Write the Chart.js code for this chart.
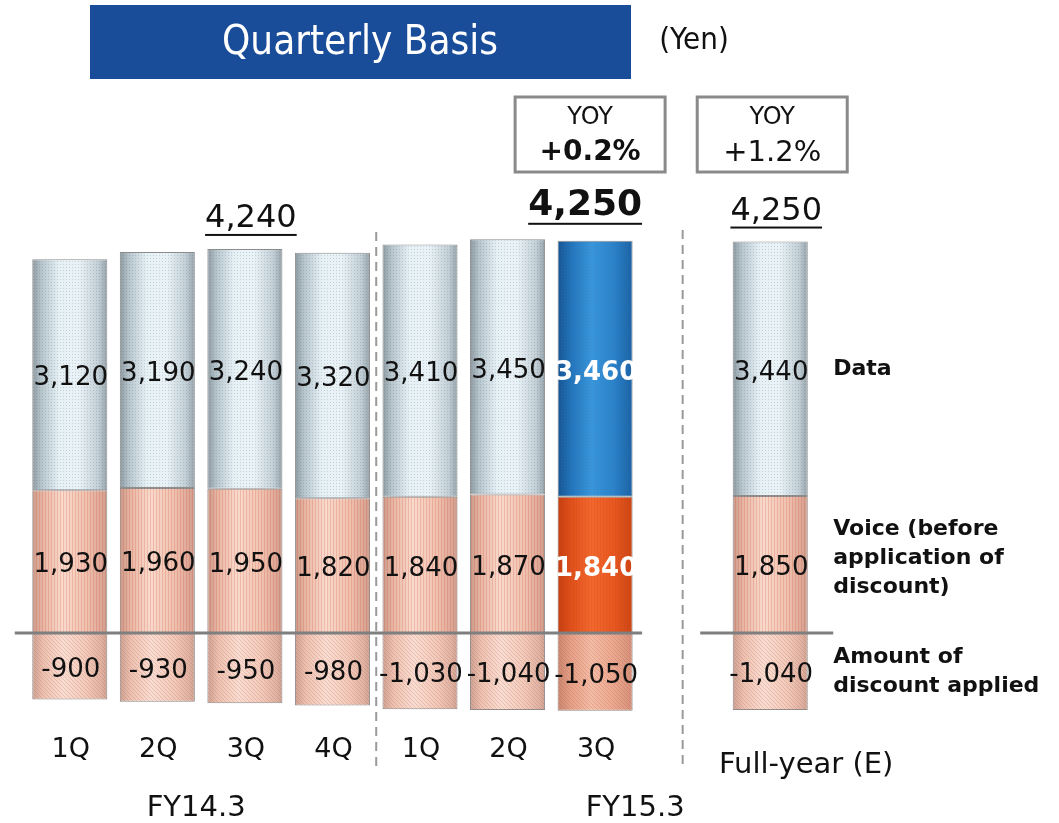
<!DOCTYPE html>
<html>
<head>
<meta charset="utf-8">
<script src="https://cdn.jsdelivr.net/npm/chart.js@4.4.0/dist/chart.umd.min.js"></script>
<style>
html, body { margin: 0; padding: 0; background: #fff; }
#wrap { width: 1059px; height: 823px; }
</style>
</head>
<body>
<div id="wrap"><canvas id="thechart" width="1059" height="823"></canvas></div>
<script>
// values (yen), slot 7 is the gap before the full-year bar
var categories = ['1Q', '2Q', '3Q', '4Q', '1Q', '2Q', '3Q', '', 'Full-year (E)'];
var dataValues = [3120, 3190, 3240, 3320, 3410, 3450, 3460, null, 3440];
var voiceValues = [1930, 1960, 1950, 1820, 1840, 1870, 1840, null, 1850];
var discountValues = [-900, -930, -950, -980, -1030, -1040, -1050, null, -1040];
var totalLabels = [null, null, '4,240', null, null, null, '4,250', null, '4,250'];
var yoyLabels = [null, null, null, null, null, null, '+0.2%', null, '+1.2%'];
var fiscalYears = ['FY14.3', 'FY15.3'];
var seriesLines = [['Data'], ['Voice (before', 'application of', 'discount)'], ['Amount of', 'discount applied']];
var highlightIndex = 6;

var FONT = "'DejaVu Sans', sans-serif";
var NARROW = "'DejaVu Sans Condensed', 'DejaVu Sans', sans-serif";
var BAR_PCT = 0.857;

// gradient stops for the cylinder look
var shades = {
  data: [['#8c99a1', 0], ['#b6c4cc', 0.12], ['#e6f1f6', 0.36], ['#e9f2f7', 0.62], ['#c2cfd6', 0.88], ['#95a2a9', 1]],
  voice: [['#c99a8a', 0], ['#e9b6a4', 0.14], ['#f9dacd', 0.4], ['#f1c2b0', 0.72], ['#dea898', 0.92], ['#c99d8e', 1]],
  disc: [['#cda193', 0], ['#edc2b2', 0.15], ['#f9ddd2', 0.42], ['#f2cabb', 0.72], ['#e0b3a4', 0.92], ['#cca293', 1]],
  dataHi: [['#145494', 0], ['#2274bb', 0.18], ['#3896dc', 0.45], ['#2a82ca', 0.75], ['#1a62a6', 1]],
  voiceHi: [['#c43e0e', 0], ['#e0501a', 0.18], ['#f3682c', 0.45], ['#e85820', 0.75], ['#cc4411', 1]],
  discHi: [['#c98670', 0], ['#e5a088', 0.18], ['#f3bca6', 0.45], ['#eba890', 0.75], ['#d4907a', 1]]
};

function cylinder(context, normal, hi) {
  var chart = context.chart;
  var xs = chart.scales.x;
  if (!xs || !chart.chartArea) return shades[normal][2][0];
  var i = context.dataIndex;
  var c = xs.getPixelForValue(i);
  var half = xs.width / categories.length * BAR_PCT / 2;
  var g = chart.ctx.createLinearGradient(c - half, 0, c + half, 0);
  var stops = i === highlightIndex ? shades[hi] : shades[normal];
  stops.forEach(function (s) { g.addColorStop(s[1], s[0]); });
  return g;
}

// small textures laid over the bars
function makePattern(w, h, drawFn) {
  var cv = document.createElement('canvas');
  cv.width = w; cv.height = h;
  drawFn(cv.getContext('2d'));
  return cv;
}
var dotTile = makePattern(3, 3, function (c) { c.fillStyle = 'rgba(90,110,120,0.25)'; c.fillRect(0, 0, 1, 1); });
var stripeTile = makePattern(3, 2, function (c) { c.fillStyle = 'rgba(200,70,40,0.2)'; c.fillRect(0, 0, 1, 2); });
var diagTile = makePattern(4, 4, function (c) {
  c.fillStyle = 'rgba(180,80,50,0.2)';
  for (var k = 0; k < 4; k++) c.fillRect(k, k, 1, 1);
});
var tiles = [stripeTile, dotTile, diagTile];

var decorPlugin = {
  id: 'decor',
  afterDatasetsDraw: function (chart) {
    var ctx = chart.ctx;
    var xs = chart.scales.x, ys = chart.scales.y;

    // textures, clipped to each bar
    chart.data.datasets.forEach(function (ds, d) {
      var pat = ctx.createPattern(tiles[d], 'repeat');
      chart.getDatasetMeta(d).data.forEach(function (bar, j) {
        if (ds.data[j] === null) return;
        var p = bar.getProps(['x', 'y', 'base', 'width'], true);
        ctx.save();
        ctx.beginPath();
        ctx.rect(p.x - p.width / 2, Math.min(p.y, p.base), p.width, Math.abs(p.base - p.y));
        ctx.clip();
        ctx.fillStyle = pat;
        ctx.fill();
        ctx.restore();
      });
    });

    // zero line, broken at the gap slot
    var y0 = ys.getPixelForValue(0);
    ctx.save();
    ctx.strokeStyle = '#7f7f7f';
    ctx.lineWidth = 3;
    ctx.beginPath();
    ctx.moveTo(xs.getPixelForValue(0) - 55, y0);
    ctx.lineTo(xs.getPixelForValue(6) + 47, y0);
    ctx.moveTo(xs.getPixelForValue(8) - 70, y0);
    ctx.lineTo(xs.getPixelForValue(8) + 63, y0);
    ctx.stroke();

    // dashed separators
    ctx.strokeStyle = '#9a9a9a';
    ctx.lineWidth = 2;
    ctx.setLineDash([9, 6]);
    var sep1 = (xs.getPixelForValue(3) + xs.getPixelForValue(4)) / 2;
    var sep2 = xs.getPixelForValue(7);
    ctx.beginPath();
    ctx.moveTo(sep1, 232); ctx.lineTo(sep1, 766);
    ctx.moveTo(sep2, 230); ctx.lineTo(sep2, 766);
    ctx.stroke();
    ctx.restore();
  },
  afterDraw: function (chart) {
    var ctx = chart.ctx;
    var xs = chart.scales.x;
    ctx.save();
    ctx.textAlign = 'center';
    ctx.textBaseline = 'middle';

    // values inside bars
    chart.data.datasets.forEach(function (ds, d) {
      chart.getDatasetMeta(d).data.forEach(function (bar, j) {
        var v = ds.data[j];
        if (v === null) return;
        var p = bar.getProps(['x', 'y', 'base'], true);
        var hi = j === highlightIndex && d < 2;
        ctx.font = (hi ? 'bold ' : '') + '26px ' + FONT;
        ctx.fillStyle = hi ? '#ffffff' : '#111111';
        ctx.fillText(v.toLocaleString('en-US'), p.x + 1, (p.y + p.base) / 2 + 4);
      });
    });

    // series names on the right, next to the full-year bar
    var last = categories.length - 1;
    var rightX = xs.getPixelForValue(last) + 63;
    ctx.textAlign = 'left';
    ctx.fillStyle = '#111111';
    ctx.font = 'bold 22px ' + FONT;
    [1, 0, 2].forEach(function (d, n) {
      var p = chart.getDatasetMeta(d).data[last].getProps(['y', 'base'], true);
      var cy = (p.y + p.base) / 2;
      var lines = seriesLines[n];
      var lh = 29;
      var off = n === 1 ? -6 : 0;
      lines.forEach(function (t, k) {
        ctx.fillText(t, rightX, cy + off + (k - (lines.length - 1) / 2) * lh);
      });
    });

    // totals above bars, underlined
    ctx.textAlign = 'center';
    var topMeta = chart.getDatasetMeta(1);
    totalLabels.forEach(function (t, j) {
      if (!t) return;
      var top = topMeta.data[j].getProps(['y'], true).y;
      var bold = j === highlightIndex;
      var cx = xs.getPixelForValue(j) + (bold ? -10 : 6);
      var cy = bold ? top - 35 : top - 30;
      ctx.font = (bold ? 'bold 36px ' : '32px ') + FONT;
      ctx.fillStyle = '#111111';
      ctx.fillText(t, cx, cy);
      var w = ctx.measureText(t).width;
      ctx.fillRect(cx - w / 2, cy + (bold ? 17 : 15), w, 2);
    });

    // YOY boxes
    yoyLabels.forEach(function (t, j) {
      if (!t) return;
      var cx = xs.getPixelForValue(j) + (j === highlightIndex ? -5 : 2);
      ctx.strokeStyle = '#8a8a8a';
      ctx.lineWidth = 3;
      ctx.strokeRect(cx - 75, 97, 150, 75);
      ctx.fillStyle = '#111111';
      ctx.font = '24px ' + FONT;
      ctx.fillText('YOY', cx, 118);
      ctx.font = (j === highlightIndex ? 'bold 28px ' : '29px ') + FONT;
      ctx.fillText(t, cx, 153);
    });

    // category labels
    categories.forEach(function (t, j) {
      if (!t) return;
      var cx = xs.getPixelForValue(j);
      if (j === last) {
        ctx.font = '29px ' + FONT;
        ctx.fillText(t, cx + 36, 765);
      } else {
        ctx.font = '27px ' + FONT;
        ctx.fillText(t, cx + 1, 750);
      }
    });
    ctx.font = '29px ' + FONT;
    ctx.fillText(fiscalYears[0], (xs.getPixelForValue(0) + xs.getPixelForValue(3)) / 2 - 5, 808);
    ctx.fillText(fiscalYears[1], xs.getPixelForValue(6) + 40, 808);

    // header
    ctx.fillStyle = '#1a4d99';
    ctx.fillRect(90, 5, 541, 74);
    ctx.fillStyle = '#ffffff';
    ctx.font = '40px ' + NARROW;
    ctx.fillText('Quarterly Basis', 360, 44);
    ctx.fillStyle = '#111111';
    ctx.font = '31px ' + NARROW;
    ctx.fillText('(Yen)', 694, 41);
    ctx.restore();
  }
};

var ctx = document.getElementById('thechart').getContext('2d');
var theChart = new Chart(ctx, {
  type: 'bar',
  data: {
    labels: categories,
    datasets: [
      {
        label: 'Voice (before application of discount)',
        data: voiceValues,
        backgroundColor: function (c) { return cylinder(c, 'voice', 'voiceHi'); },
        borderColor: '#8f8f8f',
        borderWidth: 1,
        borderSkipped: false
      },
      {
        label: 'Data',
        data: dataValues,
        backgroundColor: function (c) { return cylinder(c, 'data', 'dataHi'); },
        borderColor: '#8f8f8f',
        borderWidth: 1,
        borderSkipped: false
      },
      {
        label: 'Amount of discount applied',
        data: discountValues,
        backgroundColor: function (c) { return cylinder(c, 'disc', 'discHi'); },
        borderColor: '#8f8f8f',
        borderWidth: 1,
        borderSkipped: false
      }
    ]
  },
  options: {
    responsive: false,
    animation: false,
    events: [],
    barPercentage: BAR_PCT,
    categoryPercentage: 1,
    layout: { padding: { left: 26, right: 245, top: 189, bottom: 79 } },
    scales: {
      x: { stacked: true, display: false },
      y: { stacked: true, display: false, min: -1500, max: 6000 }
    },
    plugins: {
      legend: { display: false },
      tooltip: { enabled: false }
    }
  },
  plugins: [decorPlugin]
});
</script>
</body>
</html>
